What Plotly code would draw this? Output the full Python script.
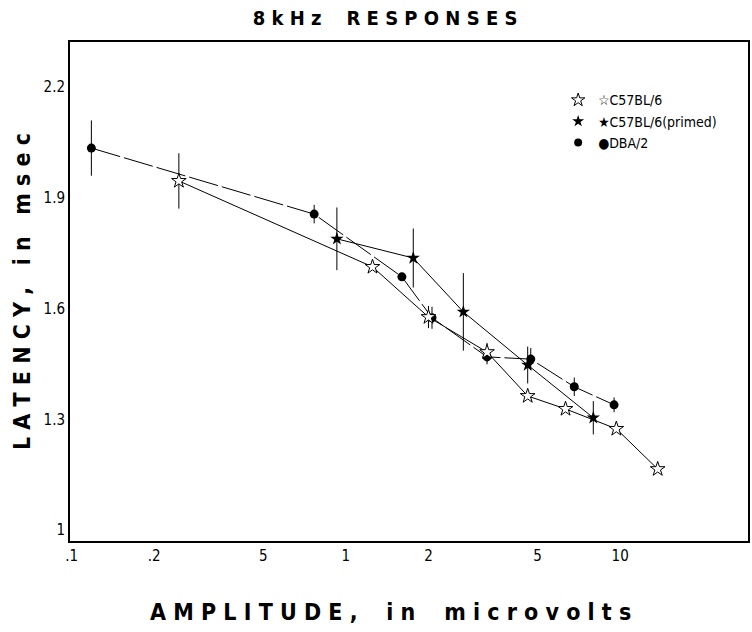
import plotly.graph_objects as go

# Response amplitude (microvolts) and latency (msec) for 8 kHz tone pips
c57_amp = [0.246, 1.25, 2.0, 3.27, 4.6, 6.32, 9.68, 13.7]
c57_lat = [1.946, 1.713, 1.577, 1.482, 1.363, 1.328, 1.274, 1.165]
c57_err = [0.075, 0, 0.03, 0.025, 0, 0, 0, 0]

primed_amp = [0.927, 1.76, 2.68, 4.6, 7.98]
primed_lat = [1.789, 1.737, 1.591, 1.447, 1.304]
primed_err = [0.085, 0.08, 0.105, 0.05, 0.045]

dba_amp = [0.118, 0.766, 1.60, 2.06, 3.27, 4.72, 6.8, 9.5]
dba_lat = [2.035, 1.856, 1.686, 1.575, 1.469, 1.463, 1.388, 1.339]
dba_err = [0.075, 0.025, 0, 0.03, 0.02, 0.03, 0.025, 0.02]

x_tickvals = [0.1, 0.2, 0.5, 1, 2, 5, 10]
x_ticktext = [".1", ".2", "5", "1", "2", "5", "10"]
y_tickvals = [1.0, 1.3, 1.6, 1.9, 2.2]
y_ticktext = ["1", "1.3", "1.6", "1.9", "2.2"]

FONT = "DejaVu Sans Condensed, Liberation Sans Narrow, sans-serif"

def err(vals):
    return dict(type="data", array=vals, visible=True, thickness=1,
                width=0, color="black")

fig = go.Figure()

fig.add_trace(go.Scatter(
    x=dba_amp, y=dba_lat, mode="lines+markers", showlegend=False,
    line=dict(color="black", width=1, dash="30px,4px"),
    marker=dict(symbol="circle", size=9, color="black"),
    error_y=err(dba_err)))

fig.add_trace(go.Scatter(
    x=c57_amp, y=c57_lat, mode="lines+markers", showlegend=False,
    line=dict(color="black", width=1),
    marker=dict(symbol="star", size=11, color="white",
                line=dict(color="black", width=1)),
    error_y=err(c57_err)))

fig.add_trace(go.Scatter(
    x=primed_amp, y=primed_lat, mode="lines+markers", showlegend=False,
    line=dict(color="black", width=1),
    marker=dict(symbol="star", size=10, color="black"),
    error_y=err(primed_err)))

# Legend entries (marker only)
fig.add_trace(go.Scatter(
    x=[None], y=[None], mode="markers", name="\u2606C57BL/6",
    marker=dict(symbol="star", size=10, color="white",
                line=dict(color="black", width=1))))
fig.add_trace(go.Scatter(
    x=[None], y=[None], mode="markers", name="\u2605C57BL/6(primed)",
    marker=dict(symbol="star", size=9, color="black")))
fig.add_trace(go.Scatter(
    x=[None], y=[None], mode="markers", name="\u25cfDBA/2",
    marker=dict(symbol="circle", size=8, color="black")))

fig.update_layout(
    width=752, height=632,
    margin=dict(l=70, r=2, t=42, b=91),
    paper_bgcolor="white", plot_bgcolor="white",
    font=dict(family=FONT, color="black", size=15),
    title=dict(text="<b>8 k H z    R E S P O N S E S</b>",
               x=0.512, xanchor="center", y=0.972, yanchor="middle",
               font=dict(size=20, family=FONT)),
    legend=dict(x=0.72, y=0.915, xanchor="left", yanchor="top",
                bgcolor="rgba(0,0,0,0)", tracegroupgap=0,
                font=dict(size=14, family=FONT), itemwidth=30),
    showlegend=True,
    annotations=[dict(
        text="<b>A M P L I T U D E ,    i n    m i c r o v o l t s</b>",
        xref="paper", yref="paper", x=0.472, y=-0.142,
        xanchor="center", yanchor="middle", showarrow=False,
        font=dict(size=23, family=FONT))],
)

fig.update_xaxes(
    type="log", range=[-1.006, 1.466],
    tickvals=x_tickvals, ticktext=x_ticktext,
    showgrid=False, zeroline=False, ticks="",
    showline=True, linecolor="black", linewidth=2, mirror=True,
    tickfont=dict(size=15, family=FONT),
)

fig.update_yaxes(
    range=[0.970, 2.3225],
    tickvals=y_tickvals, ticktext=y_ticktext,
    showgrid=False, zeroline=False, ticks="",
    showline=True, linecolor="black", linewidth=2, mirror=True,
    tickfont=dict(size=15, family=FONT),
    title=dict(text="<b>L A T E N C Y ,   i n   m s e c</b>",
               font=dict(size=23, family=FONT), standoff=6),
)

fig.write_html("out.html")
